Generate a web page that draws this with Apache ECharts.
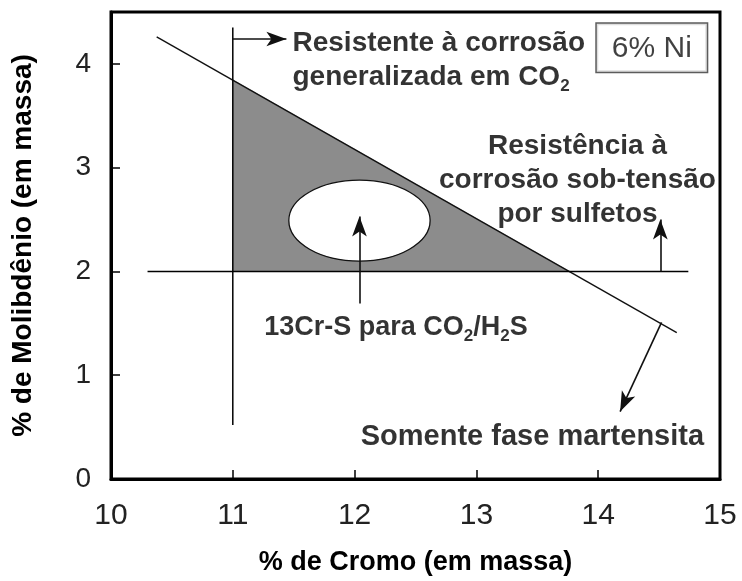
<!DOCTYPE html>
<html><head><meta charset="utf-8">
<script src="https://cdn.jsdelivr.net/npm/echarts@6/dist/echarts.min.js"></script>
<style>html,body{margin:0;padding:0;background:#fff}#c{width:742px;height:581px}</style>
</head><body><div id="c"></div>
<script>
// axis ticks
const xTicks = [10, 11, 12, 13, 14, 15];
const yTicks = [0, 1, 2, 3, 4];
const xRange = [10, 15];
const yRange = [0, 4.5];
// lines (Cr %, Mo %)
const martensiteLine = [[10.375, 4.26], [14.645, 1.41]];
const crLine = [[11, 4.35], [11, 0.52]];
const moLine = [[10.3, 2], [14.74, 2]];
// shaded region vertices
const regionPts = [[11, 2], [11, 3.85], [13.77, 2]];
// 13Cr-S ellipse: centre and half-axes in data units
const ellipseCenter = [12.04, 2.49];
const ellipseRadii = [0.58, 0.39];
// arrows: [from, to]
const arrows = [
  [[11, 4.24], [11.44, 4.24]],
  [[12.04, 1.69], [12.04, 2.53]],
  [[14.51, 2], [14.51, 2.5]],
  [[14.52, 1.51], [14.18, 0.65]]
];
// annotation anchors
const labelTop = [11.49, 4.03];
const labelRight = [13.83, 2.88];
const labelEllipse = [12.34, 1.46];
const labelMart = [13.46, 0.4];
const labelNi = [14.44, 4.155];

const FONT = 'Liberation Sans, Arial, sans-serif';
const chart = echarts.init(document.getElementById('c'), null, {renderer: 'canvas'});
const sub = {fontSize: 17, fontWeight: 'bold', fontFamily: FONT, color: '#000', verticalAlign: 'bottom', lineHeight: 15};
function textSeries(pos, text, extra) {
  return {
    type: 'scatter', symbolSize: 0, silent: true, z: 10,
    data: [{value: pos}],
    label: Object.assign({
      show: true, position: 'inside', formatter: text,
      fontFamily: FONT, fontWeight: 'bold', fontSize: 28, color: '#000', lineHeight: 34,
      rich: {sub: sub}
    }, extra || {})
  };
}
const option = {
  animation: false,
  backgroundColor: '#fff',
  grid: {left: 111, right: 22, top: 12, bottom: 98, show: true, borderColor: '#000', borderWidth: 3},
  xAxis: {
    type: 'value', min: xRange[0], max: xRange[1], interval: 1,
    name: '% de Cromo (em massa)', nameLocation: 'middle', nameGap: 70,
    nameTextStyle: {fontFamily: FONT, fontWeight: 'bold', fontSize: 27, color: '#000'},
    axisLine: {show: true, lineStyle: {color: '#000', width: 3}},
    axisTick: {show: true, inside: true, length: 9, lineStyle: {color: '#000', width: 1.5}},
    axisLabel: {fontFamily: FONT, fontSize: 30, color: '#222', margin: 22,
      formatter: v => xTicks.includes(v) ? String(v) : ''},
    splitLine: {show: false}
  },
  yAxis: {
    type: 'value', min: yRange[0], max: yRange[1], interval: 1,
    name: '% de Molibdênio (em massa)', nameLocation: 'middle', nameGap: 74, nameRotate: 90,
    nameTextStyle: {fontFamily: FONT, fontWeight: 'bold', fontSize: 28, color: '#000'},
    axisLine: {show: true, lineStyle: {color: '#000', width: 3}},
    axisTick: {show: true, inside: true, length: 9, lineStyle: {color: '#000', width: 1.5}},
    axisLabel: {fontFamily: FONT, fontSize: 28, color: '#222', margin: 20, showMaxLabel: false,
      formatter: v => yTicks.includes(v) ? String(v) : ''},
    splitLine: {show: false}
  },
  series: [
    {
      type: 'custom', silent: true, z: 1,
      renderItem: (params, api) => ({
        type: 'polygon',
        shape: {points: regionPts.map(p => api.coord(p))},
        style: {fill: '#8c8c8c', stroke: null}
      }),
      data: [0]
    },
    {
      type: 'custom', silent: true, z: 3,
      renderItem: (params, api) => {
        const c = api.coord(ellipseCenter);
        const s = api.size(ellipseRadii);
        return {type: 'ellipse', shape: {cx: c[0], cy: c[1], rx: s[0], ry: s[1]},
          style: {fill: '#fff', stroke: '#111', lineWidth: 1.3}};
      },
      data: [0]
    },
    {type: 'line', data: martensiteLine, symbol: 'none', lineStyle: {color: '#111', width: 1.4}, z: 4, silent: true},
    {type: 'line', data: crLine, symbol: 'none', lineStyle: {color: '#000', width: 1.5}, z: 4, silent: true},
    {type: 'line', data: moLine, symbol: 'none', lineStyle: {color: '#000', width: 1.5}, z: 4, silent: true},
    {
      type: 'line', data: [], z: 5, silent: true,
      markLine: {
        silent: true, symbol: ['none', 'arrow'], symbolSize: [11, 20],
        label: {show: false}, lineStyle: {color: '#111', width: 1.6, type: 'solid'},
        data: arrows.map(a => [{coord: a[0]}, {coord: a[1]}])
      }
    },
    textSeries(labelTop, 'Resistente à corrosão\ngeneralizada em CO{sub|2}', {align: 'left'}),
    textSeries(labelRight, 'Resistência à\ncorrosão sob-tensão\npor sulfetos', {align: 'center'}),
    textSeries(labelEllipse, '13Cr-S para CO{sub|2}/H{sub|2}S', {align: 'center', fontSize: 27}),
    textSeries(labelMart, 'Somente fase martensita', {align: 'center', fontSize: 29}),
    textSeries(labelNi, '6% Ni', {align: 'center', fontWeight: 'normal', fontSize: 30, color: '#111',
      borderColor: '#333', borderWidth: 1.5, padding: [8, 15, 6, 15], backgroundColor: '#fff', lineHeight: 34})
  ]
};
chart.setOption(option);
</script></body></html>
